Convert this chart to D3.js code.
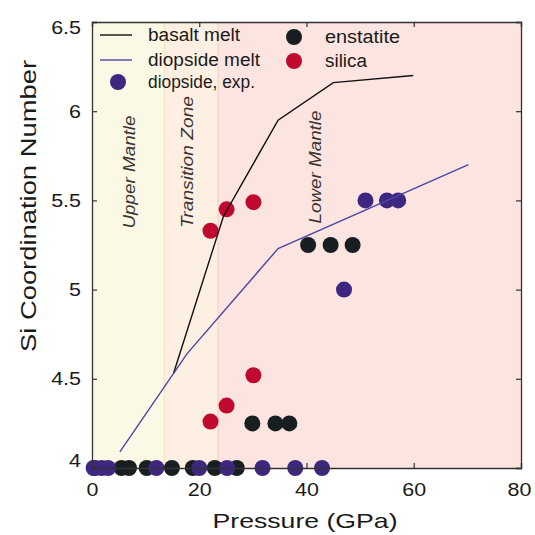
<!DOCTYPE html>
<html>
<head>
<meta charset="utf-8">
<script src="https://cdn.jsdelivr.net/npm/d3@7"></script>
<style>
  html, body { margin: 0; padding: 0; background: #fff; }
  svg { display: block; }
  text { font-family: "Liberation Sans", Arial, Helvetica, sans-serif; fill: #1a1a1a; }
</style>
</head>
<body>
<svg id="chart" width="535" height="535"></svg>
<script>
// ---------------- data ----------------
const regionNames = ["Upper Mantle", "Transition Zone", "Lower Mantle"];
const regionStart = [0, 13.5, 23.5];
const regionEnd = [13.5, 23.5, 80];

const basaltP = [15.2, 24.5, 34.7, 45.0, 59.9];
const basaltCN = [4.53, 5.41, 5.95, 6.16, 6.20];

const diopMeltP = [5.2, 17.7, 34.7, 70.2];
const diopMeltCN = [4.09, 4.64, 5.23, 5.70];

const enstatiteP = [0.5, 5.5, 6.9, 10.2, 14.9, 18.8, 22.9, 27.0, 29.9, 34.2, 36.8, 40.3, 44.5, 48.6];
const enstatiteCN = [4, 4, 4, 4, 4, 4, 4, 4, 4.25, 4.25, 4.25, 5.25, 5.25, 5.25];

const silicaP = [22.1, 25.1, 30.1, 30.1, 25.1, 22.1];
const silicaCN = [5.33, 5.45, 5.49, 4.52, 4.35, 4.26];

const diopExpP = [0.3, 1.8, 3.0, 12.0, 20.0, 25.2, 31.8, 37.9, 42.9, 47.0, 51.0, 55.0, 57.1];
const diopExpCN = [4, 4, 4, 4, 4, 4, 4, 4, 4, 5.0, 5.5, 5.5, 5.5];

const xTicks = [0, 20, 40, 60, 80];
const yTicks = [4, 4.5, 5, 5.5, 6, 6.5];
const yTickLabels = ["4", "4.5", "5", "5.5", "6", "6.5"];

const legendLines = ["basalt melt", "diopside melt"];
const legendDots = ["diopside, exp.", "enstatite", "silica"];

// ---------------- layout ----------------
const L = 92, R = 521, T = 22, B = 468;
const x = d3.scaleLinear().domain([0, 80]).range([L, R]);
const y = d3.scaleLinear().domain([4, 6.5]).range([B, T]);

const regionFill = ["#fbf9e5", "#fdf0e3", "#fce4e0"];
const regionEdge = ["#f6e3c6", "#f6d2c4", null];
const colBlack = "#191e20", colRed = "#c0092e", colPurple = "#3e2781";
const colBasalt = "#111111", colDiop = "#4d46a6";
const R_DOT = 8;
const K = 1.16; // horizontal stretch of the original lettering

const svg = d3.select("#chart");
svg.append("rect").attr("width", 535).attr("height", 535).attr("fill", "#fff");

function stretch(sel, k) {
  sel.each(function () {
    const w = this.getComputedTextLength();
    this.setAttribute("textLength", w * k);
    this.setAttribute("lengthAdjust", "spacingAndGlyphs");
  });
}
function fitTo(sel, len) {
  sel.attr("textLength", len).attr("lengthAdjust", "spacingAndGlyphs");
}

// regions
const regions = regionNames.map((n, i) => ({ n, s: regionStart[i], e: regionEnd[i], i }));
svg.append("g").selectAll("rect").data(regions).join("rect")
  .attr("x", d => x(d.s)).attr("y", T)
  .attr("width", d => x(d.e) - x(d.s)).attr("height", B - T)
  .attr("fill", d => regionFill[d.i]);
svg.append("g").selectAll("line").data(regions.filter(d => regionEdge[d.i])).join("line")
  .attr("x1", d => x(d.e)).attr("x2", d => x(d.e))
  .attr("y1", T).attr("y2", B)
  .attr("stroke", d => regionEdge[d.i]).attr("stroke-width", 1.2);

// region labels
const regionLabelPos = [[129, 172], [187.5, 162], [315.5, 167]];
const regionLabelLen = [113, 132, 113];
svg.append("g").selectAll("text").data(regions).join("text")
  .attr("transform", d => `translate(${regionLabelPos[d.i][0]},${regionLabelPos[d.i][1]}) rotate(-90)`)
  .attr("text-anchor", "middle")
  .attr("dy", "0.35em")
  .attr("font-size", 17)
  .attr("font-style", "italic")
  .style("fill", "#3a3330")
  .attr("textLength", d => regionLabelLen[d.i])
  .attr("lengthAdjust", "spacingAndGlyphs")
  .text(d => d.n);

// dots
function dots(P, CN, col) {
  svg.append("g").selectAll("circle").data(P.map((p, i) => [p, CN[i]])).join("circle")
    .attr("cx", d => x(d[0])).attr("cy", d => y(d[1])).attr("r", R_DOT).attr("fill", col);
}
dots(enstatiteP, enstatiteCN, colBlack);
dots(silicaP, silicaCN, colRed);
dots(diopExpP, diopExpCN, colPurple);

// lines
const line = d3.line().x(d => x(d[0])).y(d => y(d[1]));
svg.append("path").datum(basaltP.map((p, i) => [p, basaltCN[i]]))
  .attr("d", line).attr("fill", "none").attr("stroke", colBasalt).attr("stroke-width", 1.4);
svg.append("path").datum(diopMeltP.map((p, i) => [p, diopMeltCN[i]]))
  .attr("d", line).attr("fill", "none").attr("stroke", colDiop).attr("stroke-width", 1.4);

// axes (frame with inward ticks on all sides)
const axisCol = "#333";
const gx = svg.append("g").attr("transform", `translate(0,${B})`)
  .call(d3.axisBottom(x).tickValues(xTicks).tickSize(-5).tickPadding(10).tickFormat(d3.format("d")));
const gxTop = svg.append("g").attr("transform", `translate(0,${T})`)
  .call(d3.axisTop(x).tickValues(xTicks).tickSize(-5).tickFormat(""));
const gy = svg.append("g").attr("transform", `translate(${L},0)`)
  .call(d3.axisLeft(y).tickValues(yTicks).tickSize(-5).tickPadding(10).tickFormat((d, i) => yTickLabels[i]));
const gyR = svg.append("g").attr("transform", `translate(${R},0)`)
  .call(d3.axisRight(y).tickValues(yTicks).tickSize(-5).tickFormat(""));
[gx, gxTop, gy, gyR].forEach(g => {
  g.select(".domain").attr("stroke", axisCol).attr("stroke-width", 1.3);
  g.selectAll(".tick line").attr("stroke", axisCol).attr("stroke-width", 1.2);
  g.selectAll(".tick text").attr("font-size", 18.5).attr("font-family", null).style("fill", "#1a1a1a");
});
gx.selectAll(".tick text").attr("dy", null).attr("y", 28);
gx.selectAll(".tick text").filter(d => d === 80).attr("dx", -2);
gy.selectAll(".tick text").attr("x", -11);
gy.selectAll(".tick text").filter(d => d === 6.5).attr("dy", "0.62em");
gy.selectAll(".tick text").filter(d => d === 4).attr("dy", "-0.1em");
stretch(gx.selectAll(".tick text"), K);
stretch(gy.selectAll(".tick text"), K);

// axis titles
const xt = svg.append("text").attr("x", 305).attr("y", 528)
  .attr("text-anchor", "middle").attr("font-size", 21).text("Pressure (GPa)");
fitTo(xt, 185);
const yt = svg.append("text").attr("transform", "translate(36,206) rotate(-90)")
  .attr("text-anchor", "middle").attr("font-size", 22).text("Si Coordination Number");
fitTo(yt, 292);

// legend
const leg = svg.append("g");
const lineCols = [colBasalt, colDiop];
const lineYs = [35, 60];
const lineLens = [92, 112];
legendLines.forEach((t, i) => {
  leg.append("line").attr("x1", 100).attr("x2", 132).attr("y1", lineYs[i]).attr("y2", lineYs[i])
    .attr("stroke", lineCols[i]).attr("stroke-width", 1.4);
  const tx = leg.append("text").attr("x", 148).attr("y", lineYs[i] + 6).attr("font-size", 18).text(t);
  fitTo(tx, lineLens[i]);
});
const dotCols = [colPurple, colBlack, colRed];
const dotPos = [[118, 82], [294, 37], [294, 61]];
const dotLens = [107, 75, 42];
legendDots.forEach((t, i) => {
  leg.append("circle").attr("cx", dotPos[i][0]).attr("cy", dotPos[i][1]).attr("r", R_DOT).attr("fill", dotCols[i]);
  const tx = leg.append("text").attr("x", i === 0 ? 148 : 325).attr("y", dotPos[i][1] + 6)
    .attr("font-size", 18).text(t);
  fitTo(tx, dotLens[i]);
});
</script>
</body>
</html>
